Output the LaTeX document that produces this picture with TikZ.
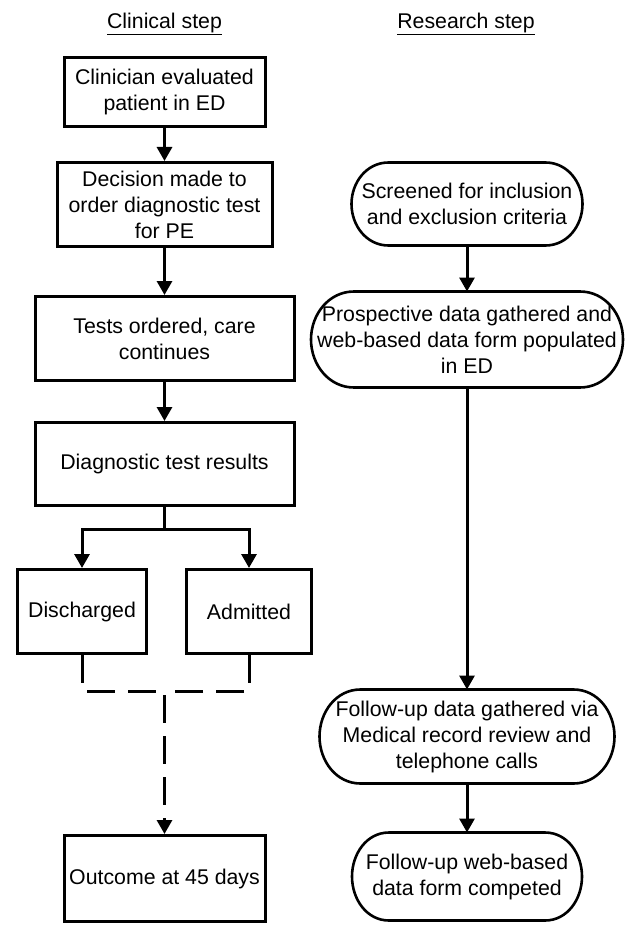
\documentclass[tikz,border=0pt]{standalone}
\usepackage{fontspec}
\setmainfont{Liberation Sans}
\usetikzlibrary{arrows.meta}

\begin{document}
\begin{tikzpicture}[x=1pt,y=1pt,
	every node/.style={font=\fontsize{21.3pt}{26pt}\selectfont},
	clin/.style={draw, line width=3pt, rectangle, inner sep=0pt, align=center},
	res/.style={rectangle, inner xsep=-40pt, inner ysep=0pt, outer sep=0pt, align=center},
	flow/.style={line width=3pt, -{Triangle[length=14pt,width=15pt]}},
	link/.style={line width=3pt, dash pattern=on 28pt off 13pt}]

	% ---- parameters

	\def\xclin{164.5}
	\def\xres{467}

	\useasboundingbox (0,0) rectangle (631,-925);

	% ---- headings

	\node (clinTitle) at (\xclin,-24) {\underline{Clinical step}};
	\node (resTitle) at (466,-24) {\underline{Research step}};

	% ---- clinical boxes

	\node[clin, minimum width=201pt, minimum height=69pt] (evaluated) at (\xclin,-92)
		{Clinician evaluated\\patient in ED};
	\node[clin, minimum width=215pt, minimum height=84pt] (decision) at (\xclin,-204.5)
		{Decision made to\\order diagnostic test\\for PE};
	\node[clin, minimum width=259pt, minimum height=84pt] (ordered) at (\xclin,-338.5)
		{Tests ordered, care\\continues};
	\node[clin, minimum width=259pt, minimum height=83pt] (results) at (\xclin,-464)
		{Diagnostic test results};
	\node[clin, minimum width=129pt, minimum height=84pt] (discharged) at (82,-611.5)
		{Discharged};
	\node[clin, minimum width=125pt, minimum height=84pt] (admitted) at (249,-611.5)
		{Admitted};
	\node[clin, minimum width=201pt, minimum height=86pt] (outcome) at (\xclin,-878.5)
		{Outcome at 45 days};

	% ---- research boxes

	\node[res, minimum width=157pt, minimum height=83pt] (screened) at (\xres,-204)
		{Screened for inclusion\\and exclusion criteria};
	\node[res, minimum width=226pt, minimum height=96pt] (prospective) at (\xres,-339.5)
		{Prospective data gathered and\\web-based data form populated\\in ED};
	\node[res, minimum width=213pt, minimum height=94pt] (followup) at (\xres,-736.5)
		{Follow-up data gathered via\\Medical record review and\\telephone calls};
	\node[res, minimum width=156pt, minimum height=88pt] (formdone) at (\xres,-876.5)
		{Follow-up web-based\\data form competed};

	% ---- rounded outlines

	\foreach \n/\a in {screened/37, prospective/43, followup/41, formdone/37} {
		\draw[line width=2.6pt] (\n.north west) -- (\n.north east)
			to[out=0, in=90] ([xshift=\a pt]\n.east)
			to[out=-90, in=0] (\n.south east) -- (\n.south west)
			to[out=180, in=-90] ([xshift=-\a pt]\n.west)
			to[out=90, in=180] (\n.north west) -- cycle;
	}

	% ---- junctions

	\coordinate (fork) at (\xclin,-529);
	\coordinate (merge) at (\xclin,-691);

	% ---- clinical arrows

	\draw[flow] (evaluated) -- (decision);
	\draw[flow] (decision) -- (ordered);
	\draw[flow] (ordered) -- (results);
	\draw[line width=3pt] (results.south) -- (fork);
	\draw[flow] (fork) -| (discharged.north);
	\draw[flow] (fork) -| (admitted.north);

	\draw[link] (discharged.south) |- (merge);
	\draw[link] (admitted.south) |- (merge);
	\draw[link, dash phase=37pt, flow] (merge) -- (outcome.north);

	% ---- research arrows

	\draw[flow] (screened) -- (prospective);
	\draw[flow] (prospective) -- (followup);
	\draw[flow] (followup) -- (formdone);

\end{tikzpicture}
\end{document}
